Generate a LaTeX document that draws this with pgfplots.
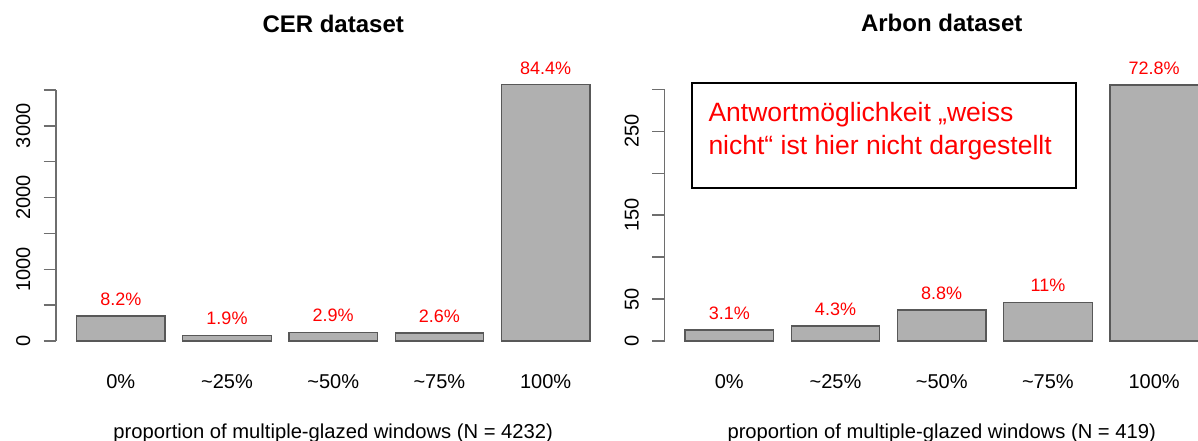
\documentclass[border=0pt]{standalone}
\usepackage{fontspec}
\setmainfont{Liberation Sans}
\usepackage{pgfplots}
\pgfplotsset{compat=1.18}

\definecolor{barfill}{HTML}{B0B0B0}
\definecolor{barline}{HTML}{585858}
\definecolor{axisgray}{HTML}{6E6E6E}

% Shared look of both bar panels (R barplot style)
\pgfplotsset{
  glazing/.style={
    scale only axis, width=554.4pt,
    xmin=-0.032, xmax=6.232, ymin=0,
    clip=false,
    axis y line*=left, axis x line*=bottom,
    x axis line style={draw=none},
    y axis line style={-, draw=axisgray, line width=1.3pt},
    xtick={0.7,1.9,3.1,4.3,5.5},
    xticklabels={0\%,\textasciitilde25\%,\textasciitilde50\%,\textasciitilde75\%,100\%},
    xtick style={draw=none},
    ytick style={draw=axisgray, line width=1.3pt},
    tick align=outside, major tick length=12.5pt,
    xticklabel style={anchor=base, inner sep=0pt, yshift=-35pt,
      font=\fontsize{20}{24}\selectfont},
    yticklabel style={rotate=90, anchor=south, inner sep=0pt,
      font=\fontsize{20}{24}\selectfont},
    yticklabel shift=13pt,
    every axis x label/.style={at={(axis description cs:0.5,0)},
      anchor=base, inner sep=0pt, yshift=-97pt,
      font=\fontsize{20.2}{24}\selectfont},
    every axis title/.style={at={(axis description cs:0.5,1)},
      anchor=base, inner sep=0pt, yshift=57.7pt,
      font=\bfseries\fontsize{24}{28}\selectfont},
    point meta=explicit symbolic,
    nodes near coords,
    every node near coord/.append style={anchor=center, yshift=17pt,
      inner sep=0pt, text=red, font=\fontsize{18}{21}\selectfont},
  },
  glazingbars/.style={ybar, bar width=1, bar shift=0pt,
    fill=barfill, draw=barline, line width=1.3pt},
}

\begin{document}
\begin{tikzpicture}[x=1pt,y=1pt]
\useasboundingbox (0,0) rectangle (1198,441);
\clip (0,0) rectangle (1198,441);

% CER dataset
\begin{axis}[glazing, at={(56pt,100pt)}, anchor=south west,
  height=251pt, ymax=3500,
  ytick={0,500,...,3500}, yticklabels={0,,1000,,2000,,3000,},
  title={CER dataset},
  xlabel={proportion of multiple-glazed windows (N = 4232)}]
\addplot[glazingbars] coordinates {
  (0.7,347)  [8.2\%]
  (1.9,80)   [1.9\%]
  (3.1,123)  [2.9\%]
  (4.3,110)  [2.6\%]
  (5.5,3572) [84.4\%]
};
\end{axis}

% Arbon dataset
\begin{axis}[glazing, at={(664.5pt,100pt)}, anchor=south west,
  height=251.7pt, ymax=300,
  ytick={0,50,...,300}, yticklabels={0,50,,150,,250,},
  title={Arbon dataset},
  xlabel={proportion of multiple-glazed windows (N = 419)}]
\addplot[glazingbars] coordinates {
  (0.7,13)  [3.1\%]
  (1.9,18)  [4.3\%]
  (3.1,37)  [8.8\%]
  (4.3,46)  [11\%]
  (5.5,305) [72.8\%]
};
\end{axis}

% note box
\draw[line width=2pt] (692,357.7) rectangle (1075.7,252.7);
\node[anchor=base west, inner sep=0pt, text=red,
  font=\fontsize{26.5}{32}\selectfont] at (708.3,319) {Antwortmöglichkeit „weiss};
\node[anchor=base west, inner sep=0pt, text=red,
  font=\fontsize{26.5}{32}\selectfont] at (708.3,286) {nicht“ ist hier nicht dargestellt};
\end{tikzpicture}
\end{document}
